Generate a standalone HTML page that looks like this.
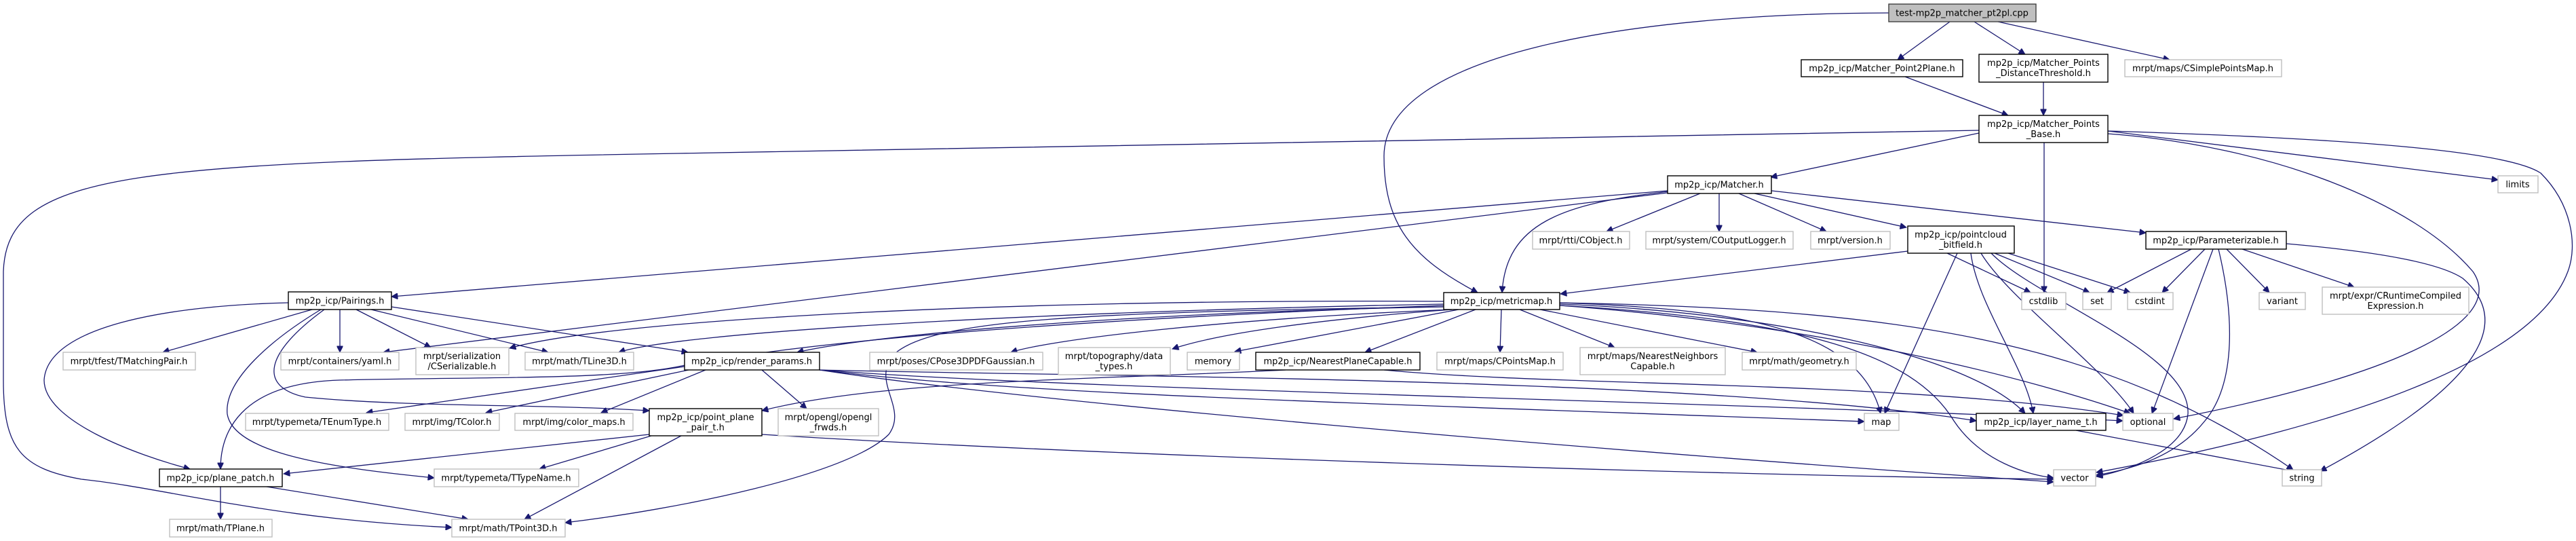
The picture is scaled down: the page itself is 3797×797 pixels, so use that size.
<!DOCTYPE html>
<html><head><meta charset="utf-8"><style>
html,body{margin:0;padding:0;background:#fff;}
svg{display:block;}
text{font-family:"DejaVu Sans","Liberation Sans",sans-serif;font-size:13px;fill:#000;text-anchor:middle;}
.e{fill:none;stroke:#191970;stroke-width:1.3;marker-end:url(#ah);}
.p{fill:#fff;stroke:#000;stroke-width:1.4;}
.s{fill:#fff;stroke:#bfbfbf;stroke-width:1.4;}
.r{fill:#bfbfbf;stroke:#404040;stroke-width:1.4;}
</style></head><body>
<svg width="3797" height="797" viewBox="0 0 3797 797" xmlns="http://www.w3.org/2000/svg">
<defs><marker id="ah" viewBox="0 0 10 10" refX="10" refY="5" markerWidth="12" markerHeight="9" markerUnits="userSpaceOnUse" orient="auto"><path d="M0,0 L10,5 L0,10 z" fill="#191970" stroke="#191970"/></marker></defs>
<g>
<path class="e" d="M2784,19 C2400,20 2040,80 2040,230 C2040,330 2080,380 2178,431"/>
<path class="e" d="M2874,32 L2797,88"/>
<path class="e" d="M2910,32 L2985,80"/>
<path class="e" d="M2945,32 L3198,88"/>
<path class="e" d="M2808,113 L2960,170"/>
<path class="e" d="M3012,121 L3012,170"/>
<path class="e" d="M2917,196 L2610,261"/>
<path class="e" d="M2917,192 L1000,226 C200,240 10,250 5,400 L5,560 C5,660 30,690 120,706 C250,720 400,765 666,777"/>
<path class="e" d="M3013,210 L3013,431"/>
<path class="e" d="M3107,193 L3682,265"/>
<path class="e" d="M3107,197 C3350,215 3560,300 3645,400 C3700,480 3500,560 3204,617"/>
<path class="e" d="M3107,193 C3500,205 3700,225 3745,255 C3790,300 3800,360 3785,400 C3740,520 3500,620 3090,696"/>
<path class="e" d="M3370,359 C3520,372 3600,390 3630,410 C3700,470 3670,560 3420,694"/>
<path class="e" d="M2458,281 L577,437"/>
<path class="e" d="M2458,284 L565,519"/>
<path class="e" d="M2460,282 C2300,300 2220,330 2214,431"/>
<path class="e" d="M2506,285 L2368,341"/>
<path class="e" d="M2534,285 L2534,341"/>
<path class="e" d="M2563,285 L2692,341"/>
<path class="e" d="M2586,285 L2810,335"/>
<path class="e" d="M2611,281 L3163,343"/>
<path class="e" d="M2812,370 L2300,433"/>
<path class="e" d="M2870,373 L2993,431"/>
<path class="e" d="M2940,373 L3080,431"/>
<path class="e" d="M2960,373 L3140,431"/>
<path class="e" d="M2885,373 L2778,609"/>
<path class="e" d="M2905,373 C2915,450 2985,540 2997,609"/>
<path class="e" d="M2920,373 C2960,440 3100,540 3145,609"/>
<path class="e" d="M2935,373 C3000,440 3230,520 3225,610 C3220,660 3150,690 3090,702"/>
<path class="e" d="M3230,367 L3106,431"/>
<path class="e" d="M3250,367 L3187,431"/>
<path class="e" d="M3262,367 L3172,609"/>
<path class="e" d="M3270,367 C3290,450 3300,560 3250,620 C3210,670 3150,690 3090,700"/>
<path class="e" d="M3282,367 L3345,431"/>
<path class="e" d="M3305,367 L3470,423"/>
<path class="e" d="M2128,452 C1700,460 1300,490 1175,519"/>
<path class="e" d="M2128,450 C1600,470 1200,500 1000,540 C900,560 700,555 500,560 C350,565 325,640 325,691"/>
<path class="e" d="M2128,444 C1500,440 900,470 751,513"/>
<path class="e" d="M2128,448 C1500,460 1000,490 912,519"/>
<path class="e" d="M2140,456 C1800,470 1550,500 1490,519"/>
<path class="e" d="M2140,456 C1950,470 1800,490 1728,514"/>
<path class="e" d="M2150,456 L1820,518"/>
<path class="e" d="M2175,456 L2012,519"/>
<path class="e" d="M2213,456 L2211,519"/>
<path class="e" d="M2240,456 L2380,512"/>
<path class="e" d="M2270,456 L2590,519"/>
<path class="e" d="M2299,446 C2550,455 2740,480 2772,609"/>
<path class="e" d="M2299,448 C2600,460 2900,520 2985,609"/>
<path class="e" d="M2299,450 C2700,480 3000,560 3140,609"/>
<path class="e" d="M2299,450 C2650,470 2820,520 2880,620 C2920,680 2990,700 3027,704"/>
<path class="e" d="M2299,446 C2800,455 3100,500 3380,692"/>
<path class="e" d="M2128,452 C1600,460 1380,470 1320,520 C1280,560 1340,600 1310,640 C1250,700 1000,750 833,770"/>
<path class="e" d="M1004,642 L773,765"/>
<path class="e" d="M957,640 L418,698"/>
<path class="e" d="M960,642 L795,691"/>
<path class="e" d="M1123,640 C1600,670 2500,700 3027,706"/>
<path class="e" d="M1009,540 L540,608"/>
<path class="e" d="M1015,545 L716,608"/>
<path class="e" d="M1040,545 L886,608"/>
<path class="e" d="M1123,545 L1189,602"/>
<path class="e" d="M1208,545 C1500,580 1900,590 2748,621"/>
<path class="e" d="M1208,545 C1600,575 2500,590 3129,620"/>
<path class="e" d="M1208,545 C1500,590 2300,660 3027,710"/>
<path class="e" d="M1208,545 C1600,555 2500,555 2913,620"/>
<path class="e" d="M2040,545 C2300,570 2800,560 3130,612"/>
<path class="e" d="M1895,545 C1600,560 1300,560 1123,605"/>
<path class="e" d="M460,456 L240,519"/>
<path class="e" d="M501,456 L501,519"/>
<path class="e" d="M525,456 L635,512"/>
<path class="e" d="M547,456 L808,519"/>
<path class="e" d="M577,452 L1014,519"/>
<path class="e" d="M425,446 C250,450 70,480 65,560 C65,620 200,670 280,691"/>
<path class="e" d="M473,456 C400,500 330,560 335,610 C345,670 500,690 640,704"/>
<path class="e" d="M478,456 C390,520 380,570 450,585 C600,600 800,595 957,605"/>
<path class="e" d="M325,717 L325,765"/>
<path class="e" d="M393,717 L690,765"/>
<path class="e" d="M3060,634 L3380,694"/>
</g>
<g>
<rect class="r" x="2784" y="6" width="217" height="26"/><text x="2892" y="23.5">test-mp2p_matcher_pt2pl.cpp</text>
<rect class="p" x="2655" y="88" width="238" height="25"/><text x="2774" y="105">mp2p_icp/Matcher_Point2Plane.h</text>
<rect class="p" x="2917" y="80" width="190" height="41"/><text x="3012" y="97">mp2p_icp/Matcher_Points</text><text x="3012" y="112">_DistanceThreshold.h</text>
<rect class="s" x="3132" y="88" width="231" height="25"/><text x="3247" y="105">mrpt/maps/CSimplePointsMap.h</text>
<rect class="p" x="2917" y="170" width="190" height="40"/><text x="3012" y="187">mp2p_icp/Matcher_Points</text><text x="3012" y="202">_Base.h</text>
<rect class="s" x="3682" y="259" width="59" height="25"/><text x="3711" y="276">limits</text>
<rect class="p" x="2458" y="259" width="153" height="26"/><text x="2534" y="276.5">mp2p_icp/Matcher.h</text>
<rect class="s" x="2259" y="341" width="143" height="26"/><text x="2330" y="358.5">mrpt/rtti/CObject.h</text>
<rect class="s" x="2426" y="341" width="217" height="26"/><text x="2534" y="358.5">mrpt/system/COutputLogger.h</text>
<rect class="s" x="2669" y="341" width="117" height="26"/><text x="2727" y="358.5">mrpt/version.h</text>
<rect class="p" x="2812" y="333" width="157" height="40"/><text x="2890" y="350">mp2p_icp/pointcloud</text><text x="2890" y="365">_bitfield.h</text>
<rect class="p" x="3163" y="341" width="207" height="26"/><text x="3266" y="358.5">mp2p_icp/Parameterizable.h</text>
<rect class="s" x="2980" y="431" width="65" height="25"/><text x="3012" y="448">cstdlib</text>
<rect class="s" x="3070" y="431" width="42" height="25"/><text x="3091" y="448">set</text>
<rect class="s" x="3136" y="431" width="67" height="25"/><text x="3169" y="448">cstdint</text>
<rect class="s" x="3330" y="431" width="68" height="25"/><text x="3364" y="448">variant</text>
<rect class="s" x="3423" y="423" width="216" height="40"/><text x="3531" y="440">mrpt/expr/CRuntimeCompiled</text><text x="3531" y="455">Expression.h</text>
<rect class="p" x="2128" y="431" width="171" height="25"/><text x="2213" y="448">mp2p_icp/metricmap.h</text>
<rect class="p" x="425" y="430" width="152" height="26"/><text x="501" y="447.5">mp2p_icp/Pairings.h</text>
<rect class="s" x="93" y="519" width="195" height="26"/><text x="190" y="536.5">mrpt/tfest/TMatchingPair.h</text>
<rect class="s" x="414" y="519" width="174" height="26"/><text x="501" y="536.5">mrpt/containers/yaml.h</text>
<rect class="s" x="613" y="512" width="137" height="40"/><text x="681" y="529">mrpt/serialization</text><text x="681" y="544">/CSerializable.h</text>
<rect class="s" x="774" y="519" width="160" height="26"/><text x="854" y="536.5">mrpt/math/TLine3D.h</text>
<rect class="p" x="1009" y="519" width="199" height="26"/><text x="1108" y="536.5">mp2p_icp/render_params.h</text>
<rect class="s" x="1282" y="519" width="255" height="26"/><text x="1409" y="536.5">mrpt/poses/CPose3DPDFGaussian.h</text>
<rect class="s" x="1560" y="512" width="165" height="40"/><text x="1642" y="529">mrpt/topography/data</text><text x="1642" y="544">_types.h</text>
<rect class="s" x="1750" y="519" width="77" height="26"/><text x="1788" y="536.5">memory</text>
<rect class="p" x="1851" y="519" width="242" height="26"/><text x="1972" y="536.5">mp2p_icp/NearestPlaneCapable.h</text>
<rect class="s" x="2118" y="519" width="186" height="26"/><text x="2211" y="536.5">mrpt/maps/CPointsMap.h</text>
<rect class="s" x="2329" y="512" width="214" height="40"/><text x="2436" y="529">mrpt/maps/NearestNeighbors</text><text x="2436" y="544">Capable.h</text>
<rect class="s" x="2568" y="519" width="168" height="26"/><text x="2652" y="536.5">mrpt/math/geometry.h</text>
<rect class="s" x="362" y="609" width="211" height="25"/><text x="467" y="626">mrpt/typemeta/TEnumType.h</text>
<rect class="s" x="597" y="609" width="139" height="25"/><text x="666" y="626">mrpt/img/TColor.h</text>
<rect class="s" x="759" y="609" width="174" height="25"/><text x="846" y="626">mrpt/img/color_maps.h</text>
<rect class="p" x="957" y="602" width="166" height="40"/><text x="1040" y="619">mp2p_icp/point_plane</text><text x="1040" y="634">_pair_t.h</text>
<rect class="s" x="1147" y="602" width="148" height="40"/><text x="1221" y="619">mrpt/opengl/opengl</text><text x="1221" y="634">_frwds.h</text>
<rect class="s" x="2748" y="609" width="51" height="25"/><text x="2773" y="626">map</text>
<rect class="p" x="2913" y="609" width="191" height="25"/><text x="3008" y="626">mp2p_icp/layer_name_t.h</text>
<rect class="s" x="3129" y="609" width="74" height="25"/><text x="3166" y="626">optional</text>
<rect class="p" x="235" y="691" width="181" height="26"/><text x="325" y="708.5">mp2p_icp/plane_patch.h</text>
<rect class="s" x="640" y="691" width="213" height="26"/><text x="746" y="708.5">mrpt/typemeta/TTypeName.h</text>
<rect class="s" x="3027" y="692" width="62" height="24"/><text x="3058" y="708.5">vector</text>
<rect class="s" x="3364" y="692" width="58" height="24"/><text x="3393" y="708.5">string</text>
<rect class="s" x="250" y="765" width="151" height="26"/><text x="325" y="782.5">mrpt/math/TPlane.h</text>
<rect class="s" x="666" y="765" width="167" height="26"/><text x="749" y="782.5">mrpt/math/TPoint3D.h</text>
</g>
</svg>
</body></html>
